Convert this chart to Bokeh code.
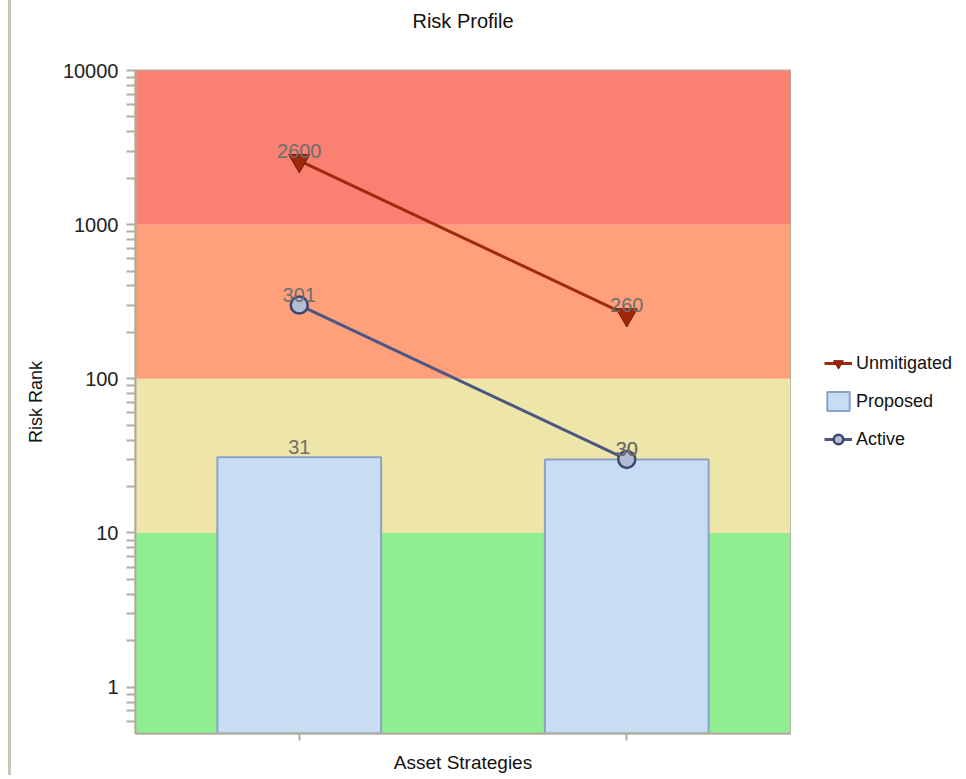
from bokeh.plotting import figure
from bokeh.layouts import row
from bokeh.models import (Range1d, FixedTicker, Legend, LegendItem, ColumnDataSource,
                          PrintfTickFormatter, Title)
from bokeh.embed import file_html
from bokeh.resources import INLINE

# ---- data ----
categories = ["Strategy 1", "Strategy 2"]
unmitigated = [2600, 260]
proposed = [31, 30]
active = [301, 30]
series_names = ["Unmitigated", "Proposed", "Active"]

band_bottoms = [0.5, 10, 100, 1000]
band_tops = [10, 100, 1000, 10000]
band_colors = ["#90EE90", "#EEE6A8", "#FFA07A", "#FA8072"]

y_major = [1, 10, 100, 1000, 10000]
y_minor = [0.6, 0.7, 0.8, 0.9, 2, 3, 4, 5, 6, 7, 8, 9, 20, 30, 40, 50, 60, 70, 80, 90,
           200, 300, 400, 500, 600, 700, 800, 900, 2000, 3000, 4000, 5000, 6000, 7000, 8000, 9000]

FONT = "Liberation Sans"
AXIS_COL = "#b0ae9e"
UN_LINE, UN_FILL, UN_EDGE = "#9e2a0b", "#a0280a", "#6a1a05"
AC_LINE, AC_FILL, AC_EDGE = "#4b5782", "#b4bcd2", "#3b4570"
BAR_FILL, BAR_EDGE = "#c8dcf4", "#8aa2c6"

xs = [i + 0.5 for i in range(len(categories))]
ymin, ymax = band_bottoms[0], band_tops[-1]

p = figure(frame_width=652, frame_height=663, output_backend="svg", toolbar_location=None,
           y_axis_type="log", x_range=Range1d(0, len(categories)),
           y_range=Range1d(ymin, ymax),
           min_border_left=124, min_border_top=70, min_border_right=4, min_border_bottom=36)
p.styles = {"border-left": "3px solid #c8c6b6", "margin-left": "8px"}

# spacer between title and frame (nearest to the frame)
p.add_layout(Title(text=" ", text_font_size="2px", standoff=28), "above")

p.title.text = "Risk Profile"
p.title.align = "center"
p.title.text_font = FONT
p.title.text_font_size = "20px"
p.title.text_font_style = "normal"
p.title.text_color = "#111111"
p.title.standoff = 14

p.xgrid.visible = False
p.ygrid.visible = False
p.outline_line_color = AXIS_COL
p.outline_line_width = 2
p.background_fill_color = "white"

# background bands
p.quad(left=0, right=len(categories), bottom=band_bottoms, top=band_tops,
       fill_color=band_colors, line_color=None)

src = ColumnDataSource(dict(x=xs, un=unmitigated, pr=proposed, ac=active,
                            un_t=[str(v) for v in unmitigated],
                            pr_t=[str(v) for v in proposed],
                            ac_t=[str(v) for v in active]))
p.vbar(x="x", top="pr", bottom=ymin, width=0.5, source=src,
       fill_color=BAR_FILL, line_color=BAR_EDGE, line_width=2)
p.line("x", "un", source=src, line_color=UN_LINE, line_width=3)
p.scatter("x", "un", source=src, marker="inverted_triangle", size=21,
          fill_color=UN_FILL, line_color=UN_EDGE, line_width=1)
p.line("x", "ac", source=src, line_color=AC_LINE, line_width=3)
p.scatter("x", "ac", source=src, marker="circle", size=17,
          fill_color=AC_FILL, line_color=AC_EDGE, line_width=2.5)

for col, ycol in (("un_t", "un"), ("pr_t", "pr"), ("ac_t", "ac")):
    p.text("x", ycol, text=col, source=src, text_align="center", text_baseline="bottom",
           y_offset=-3, text_color="#6e6e6e", text_font_size="20px",
           text_font={"value": FONT})

# axes
yax = p.yaxis[0]
yax.ticker = FixedTicker(ticks=y_major, minor_ticks=y_minor)
yax.formatter = PrintfTickFormatter(format="%d")
yax.axis_label = "Risk Rank"
yax.axis_label_text_font = FONT
yax.axis_label_text_font_size = "18px"
yax.axis_label_text_font_style = "normal"
yax.axis_label_text_color = "#111111"
yax.axis_label_standoff = 14
yax.major_label_text_font = FONT
yax.major_label_text_font_size = "20px"
yax.major_label_text_color = "#222222"
yax.major_label_standoff = 8
yax.axis_line_color = AXIS_COL
yax.axis_line_width = 2
yax.major_tick_line_color = AXIS_COL
yax.minor_tick_line_color = AXIS_COL
yax.major_tick_in = 0
yax.major_tick_out = 9
yax.minor_tick_in = 0
yax.minor_tick_out = 9
yax.major_tick_line_width = 2
yax.minor_tick_line_width = 2

xax = p.xaxis[0]
xax.ticker = FixedTicker(ticks=xs)
xax.major_label_overrides = {x: "" for x in xs}
xax.axis_label = "Asset Strategies"
xax.axis_label_text_font = FONT
xax.axis_label_text_font_size = "19px"
xax.axis_label_text_font_style = "normal"
xax.axis_label_text_color = "#111111"
xax.axis_label_standoff = 11
xax.axis_line_color = AXIS_COL
xax.axis_line_width = 2
xax.major_tick_line_color = AXIS_COL
xax.major_tick_line_width = 2
xax.major_tick_in = 0
xax.major_tick_out = 7
xax.minor_tick_line_color = None

# ---- legend panel (separate figure to the right of the chart) ----
LH = 740
q = figure(width=170, height=LH, output_backend="svg", toolbar_location=None,
           x_range=Range1d(0, 1), y_range=Range1d(0, 1),
           x_axis_location=None, y_axis_location=None,
           min_border=0)
q.outline_line_color = None
q.xgrid.visible = False
q.ygrid.visible = False
nan = float("nan")


def placeholder():
    # one undrawable (NaN) row so that the legend swatch has a style to draw with
    return ColumnDataSource(dict(x=[nan], y=[nan]))


l_un = q.line("x", "y", source=placeholder(), line_color=UN_LINE, line_width=3)
s_un = q.scatter("x", "y", source=placeholder(), marker="inverted_triangle",
                 size=16, fill_color=UN_FILL, line_color=UN_EDGE, line_width=1)
b_pr = q.vbar(x="x", top="y", width=0.5, source=placeholder(),
              fill_color=BAR_FILL, line_color=BAR_EDGE, line_width=2)
l_ac = q.line("x", "y", source=placeholder(), line_color=AC_LINE, line_width=3)
s_ac = q.scatter("x", "y", source=placeholder(), marker="circle", size=13,
                 fill_color=AC_FILL, line_color=AC_EDGE, line_width=2.5)

legend = Legend(items=[
    LegendItem(label=series_names[0], renderers=[l_un, s_un]),
    LegendItem(label=series_names[1], renderers=[b_pr]),
    LegendItem(label=series_names[2], renderers=[l_ac, s_ac]),
], location=(33, 247))
legend.label_text_font = FONT
legend.label_text_font_size = "18px"
legend.label_text_color = "#111111"
legend.glyph_width = 28
legend.glyph_height = 24
legend.label_standoff = 4
legend.spacing = 14
legend.padding = 5
legend.margin = 0
legend.border_line_color = None
legend.background_fill_alpha = 0
q.add_layout(legend)

layout = row(p, q)
open("out.html", "w").write(file_html(layout, INLINE))
